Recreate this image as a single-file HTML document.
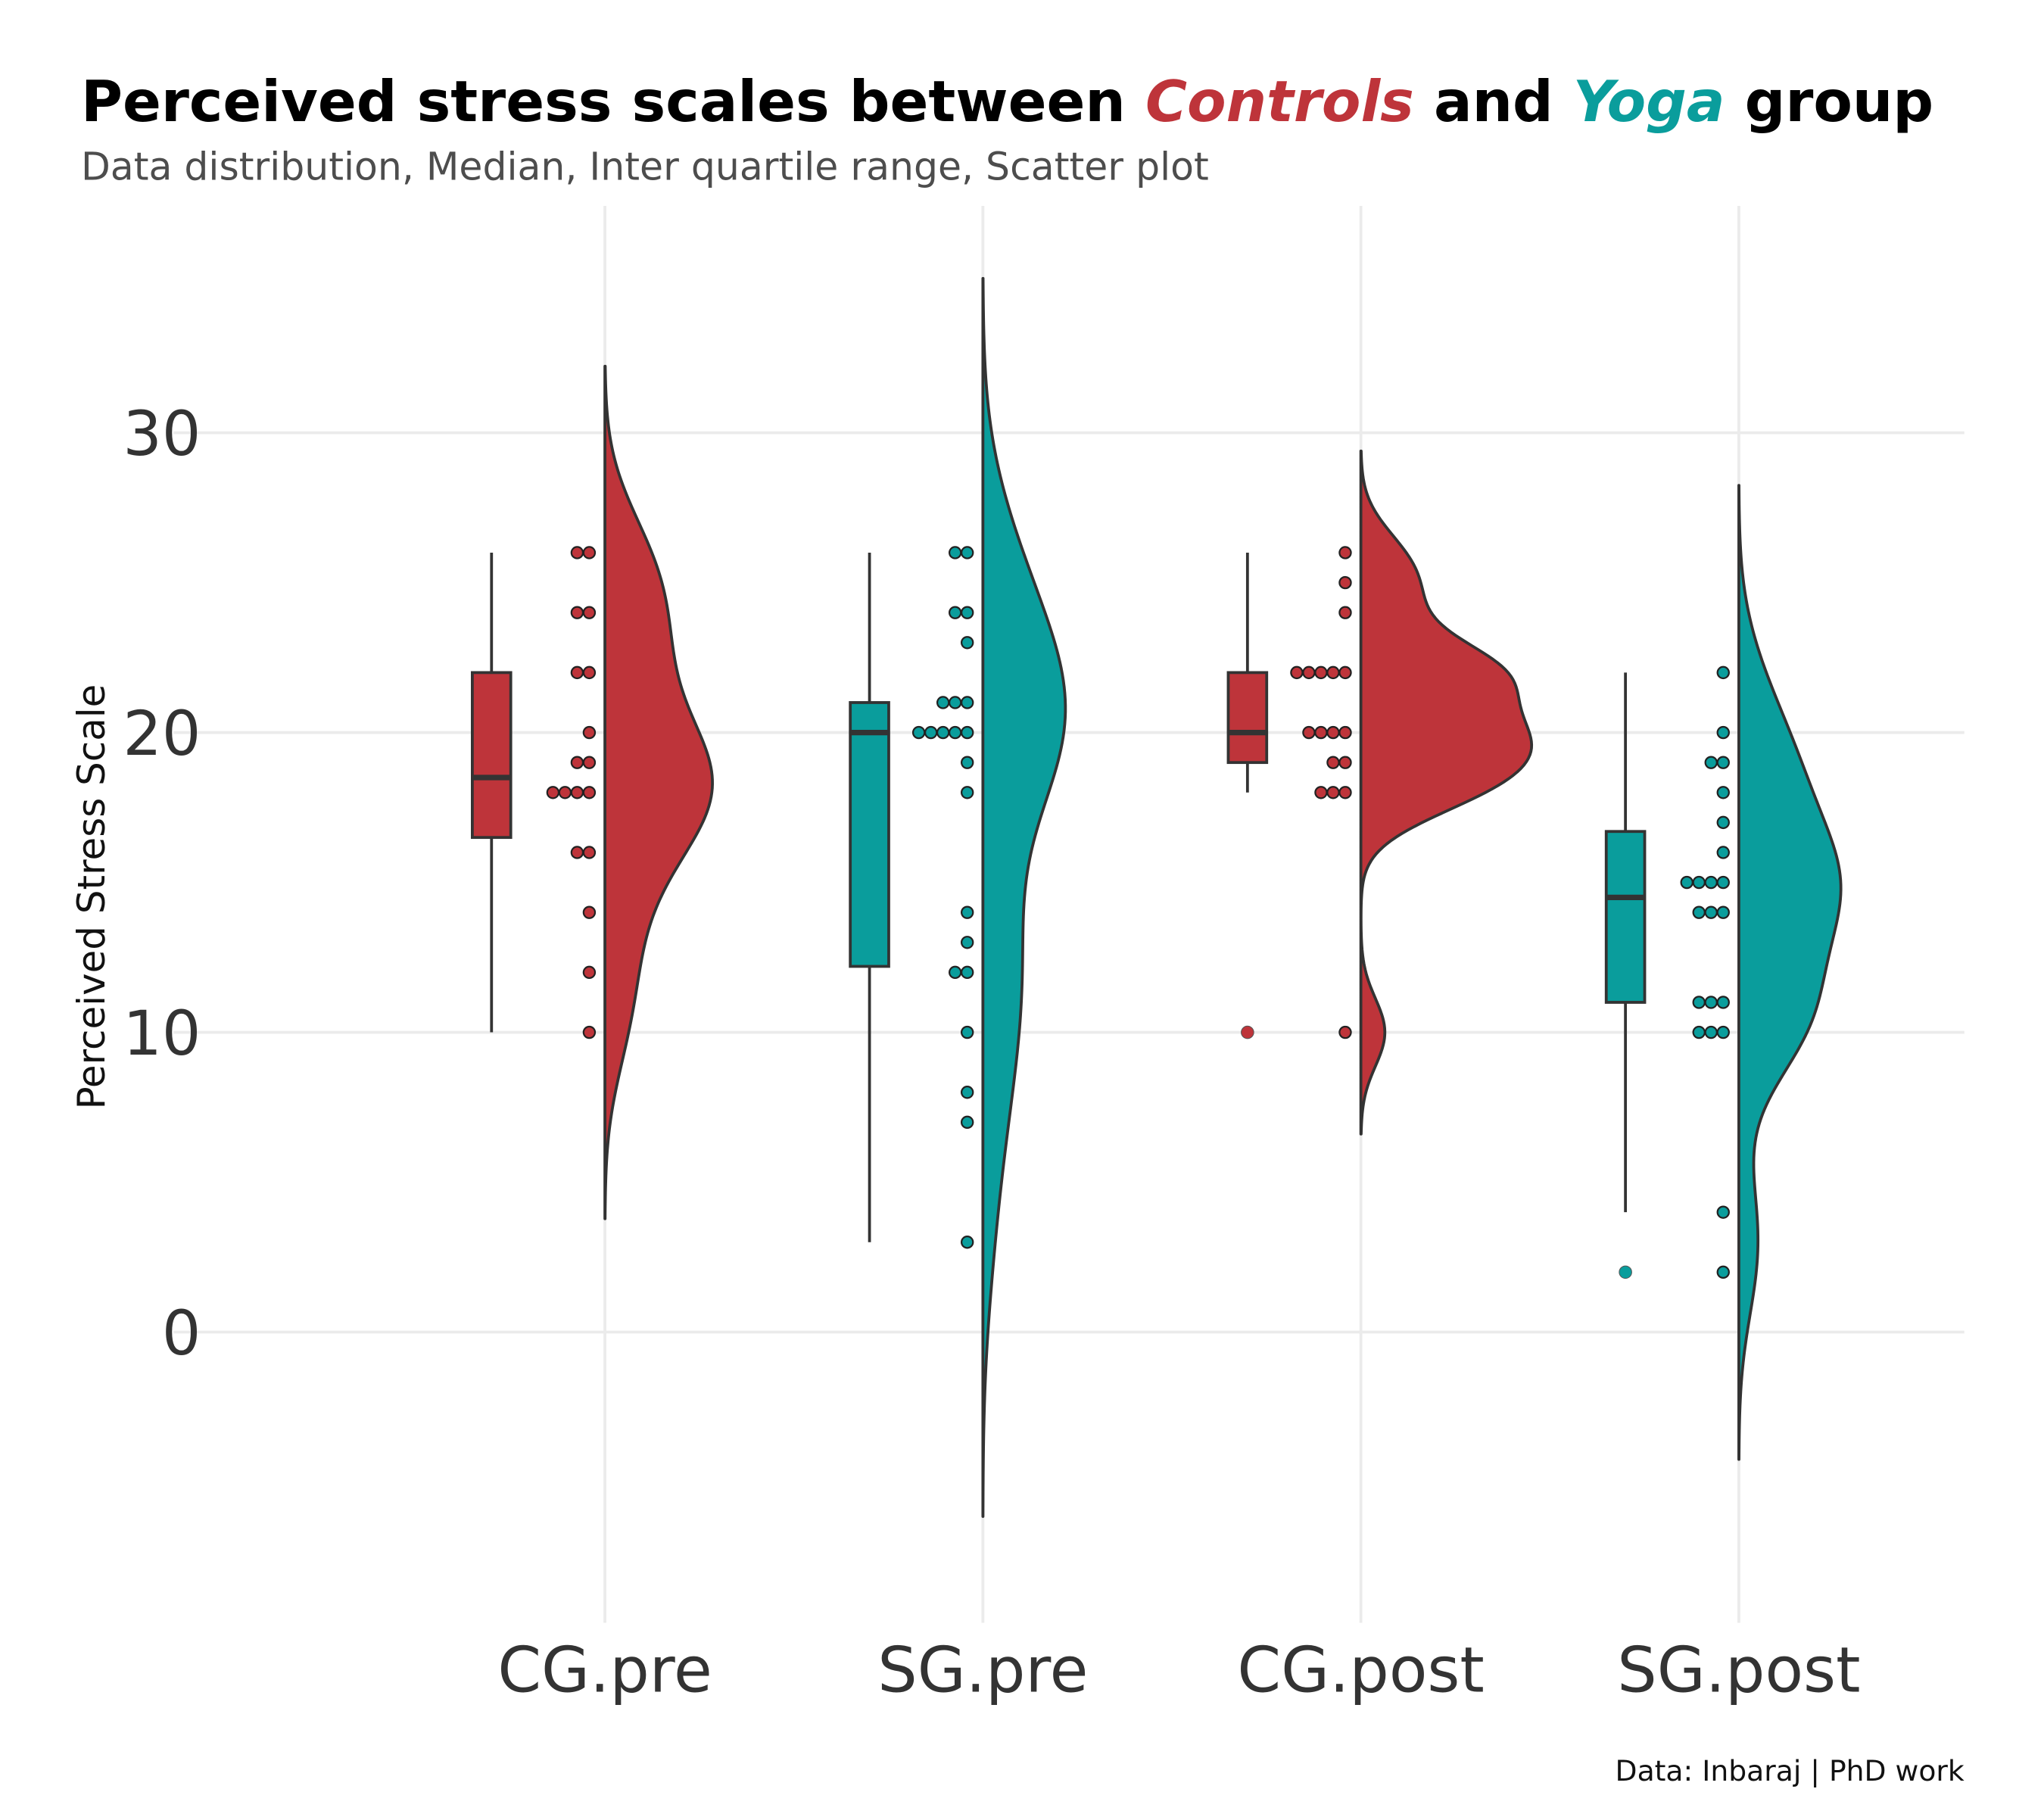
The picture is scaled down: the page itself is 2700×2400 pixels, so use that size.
<!DOCTYPE html>
<html><head><meta charset="utf-8">
<style>
html,body{margin:0;padding:0;background:#fff;}
svg{display:block;}
text{font-family:"DejaVu Sans","Liberation Sans",sans-serif;}
</style></head>
<body>
<svg id="chart" width="2700" height="2400" viewBox="0 0 1568 1394" xmlns="http://www.w3.org/2000/svg">
<rect width="1568" height="1394" fill="#fff"/>
<g id="grid"></g>
<g id="marks"></g>
<text x="62" y="93" font-size="43.6" font-weight="bold" fill="#000">Perceived stress scales between <tspan fill="#BE343A" font-style="italic">Controls</tspan> and <tspan fill="#0A9D9C" font-style="italic">Yoga</tspan> group</text>
<text x="62" y="138" font-size="29.3" fill="#4d4d4d">Data distribution, Median, Inter quartile range, Scatter plot</text>
<text transform="translate(80,688) rotate(-90)" text-anchor="middle" font-size="29" fill="#111">Perceived Stress Scale</text>
<text x="1507" y="1366" text-anchor="end" font-size="21.9" fill="#111">Data: Inbaraj | PhD work</text>
<g id="axes"></g>
</svg>
<script>
const categories = ["CG.pre","SG.pre","CG.post","SG.post"];
const groupColors = ["#BE343A","#0A9D9C","#BE343A","#0A9D9C"];
const yTicks = [0,10,20,30];
const cgPre = [26,26,24,24,22,22,20,19,19,18,18,18,18,16,16,14,12,10];
const sgPre = [26,26,24,24,23,21,21,21,20,20,20,20,20,19,18,14,13,12,12,10,8,7,3];
const cgPost = [26,25,24,22,22,22,22,22,20,20,20,20,19,19,18,18,18,10];
const sgPost = [22,20,19,19,18,17,16,15,15,15,15,14,14,14,11,11,11,10,10,10,4,2];
const boxQ1 = [16.5,12.2,19,11];
const boxMedian = [18.5,20,20,14.5];
const boxQ3 = [22,21,22,16.7];
const whiskLo = [10,3,18,4];
const whiskHi = [26,26,26,22];
const outliers = [[],[],[10],[2]];
const series = [cgPre,sgPre,cgPost,sgPost];

const NS="http://www.w3.org/2000/svg";
const x = i => 464 + i*290;
const y = v => 1022 - 23*v;
function mk(tag, attrs, parent){const e=document.createElementNS(NS,tag);for(const k in attrs)e.setAttribute(k,attrs[k]);parent.appendChild(e);return e;}
const grid=document.getElementById('grid'), marks=document.getElementById('marks'), axes=document.getElementById('axes');

yTicks.forEach(t=>{
  const l=mk('line',{x1:133,x2:1507,y1:y(t),y2:y(t),stroke:'#ebebeb','stroke-width':2.2},grid);
  
  
  const tx=mk('text',{x:154,y:y(t)+17,'text-anchor':'end','font-size':47,fill:'#333'},axes);
  tx.textContent=t;
  
  
});
categories.forEach((c,i)=>{
  const l=mk('line',{x1:x(i),x2:x(i),y1:158,y2:1245,stroke:'#ebebeb','stroke-width':2.2},grid);
  
  
  const tx=mk('text',{x:x(i),y:1298,'text-anchor':'middle','font-size':48,fill:'#333'},axes);
  tx.textContent=c;
  
  
});

function nrd0(d){const n=d.length;const m=d.reduce((a,b)=>a+b,0)/n;const sd=Math.sqrt(d.reduce((a,b)=>a+(b-m)*(b-m),0)/(n-1));
  const s=[...d].sort((a,b)=>a-b);const q=p=>{const h=(n-1)*p,lo=Math.floor(h);return s[lo]+(h-lo)*((s[lo+1]??s[lo])-s[lo]);};
  const iqr=q(0.75)-q(0.25);const lo=Math.min(sd,iqr/1.34)||sd;return 0.9*lo*Math.pow(n,-0.2);}
const dens=series.map(d=>{const bw=nrd0(d);const mn=Math.min(...d)-3*bw,mx=Math.max(...d)+3*bw;const pts=[];
  for(let k=0;k<=200;k++){const v=mn+(mx-mn)*k/200;let s=0;d.forEach(p=>{const z=(v-p)/bw;s+=Math.exp(-0.5*z*z);});pts.push([v,s/(d.length*bw*Math.sqrt(2*Math.PI))]);}
  return pts;});
const gmax=Math.max(...dens.map(p=>Math.max(...p.map(q=>q[1]))));
dens.forEach((pts,i)=>{
  let dd=`M${x(i)},${y(pts[0][0])}`;
  pts.forEach(p=>{dd+=` L${(x(i)+p[1]/gmax*131).toFixed(2)},${y(p[0]).toFixed(2)}`;});
  dd+=` L${x(i)},${y(pts[pts.length-1][0])} Z`;
  const e=mk('path',{d:dd,fill:groupColors[i],stroke:'#333','stroke-width':2.2,'stroke-linejoin':'round'},marks);
  
  
});

categories.forEach((c,i)=>{
  const bx=x(i)-87, w=29.5;
  const g=mk('g',{},marks);
  
  
  mk('line',{x1:bx,x2:bx,y1:y(whiskHi[i]),y2:y(boxQ3[i]),stroke:'#333','stroke-width':2.2},g);
  mk('line',{x1:bx,x2:bx,y1:y(boxQ1[i]),y2:y(whiskLo[i]),stroke:'#333','stroke-width':2.2},g);
  mk('rect',{x:bx-w/2,y:y(boxQ3[i]),width:w,height:y(boxQ1[i])-y(boxQ3[i]),fill:groupColors[i],stroke:'#333','stroke-width':2.2},g);
  mk('line',{x1:bx-w/2,x2:bx+w/2,y1:y(boxMedian[i]),y2:y(boxMedian[i]),stroke:'#333','stroke-width':4.2},g);
  outliers[i].forEach(o=>{
    const e=mk('circle',{cx:bx,cy:y(o),r:4.8,fill:groupColors[i],stroke:'#555','stroke-width':0.6},g);
    
    
  });
});

series.forEach((d,i)=>{
  const counts={};
  d.forEach(v=>{const k=counts[v]||0;counts[v]=k+1;
    const e=mk('circle',{cx:x(i)-12-k*9.3,cy:y(v),r:4.4,fill:groupColors[i],stroke:'#222','stroke-width':1.3},marks);
    
    
  });
});
</script>
</body></html>
